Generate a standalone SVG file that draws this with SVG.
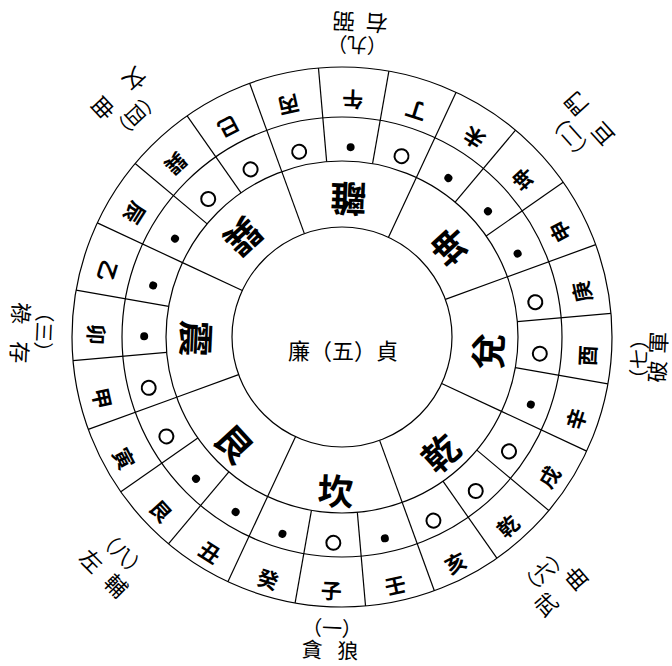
<svg xmlns="http://www.w3.org/2000/svg" width="672" height="666" viewBox="0 0 672 666">
<style>
.ln{stroke:#000;stroke-width:1.2;fill:none}
.t{font-family:"Noto Sans CJK TC","Noto Sans CJK SC",sans-serif;text-anchor:middle;dominant-baseline:central;fill:#000}
.m{font-size:21px;font-weight:700}
.g{font-size:36px;font-weight:700}
.s{font-size:22px}
.n{font-size:20px}
.c{font-size:22px}
.o{fill:none;stroke:#000;stroke-width:2}
.d{fill:#000}
</style>
<rect width="672" height="666" fill="#fff"/>
<g id="connectors">
<circle class="ln" cx="342" cy="337" r="270"/>
<circle class="ln" cx="342" cy="337" r="220"/>
<circle class="ln" cx="342" cy="337" r="176"/>
<circle class="ln" cx="342" cy="337" r="110"/>
<g id="lines24">
<line class="ln" x1="342" y1="161" x2="342" y2="67" transform="rotate(10 342 337)"/>
<line class="ln" x1="342" y1="161" x2="342" y2="67" transform="rotate(25 342 337)"/>
<line class="ln" x1="342" y1="161" x2="342" y2="67" transform="rotate(40 342 337)"/>
<line class="ln" x1="342" y1="161" x2="342" y2="67" transform="rotate(55 342 337)"/>
<line class="ln" x1="342" y1="161" x2="342" y2="67" transform="rotate(70 342 337)"/>
<line class="ln" x1="342" y1="161" x2="342" y2="67" transform="rotate(85 342 337)"/>
<line class="ln" x1="342" y1="161" x2="342" y2="67" transform="rotate(100 342 337)"/>
<line class="ln" x1="342" y1="161" x2="342" y2="67" transform="rotate(115 342 337)"/>
<line class="ln" x1="342" y1="161" x2="342" y2="67" transform="rotate(130 342 337)"/>
<line class="ln" x1="342" y1="161" x2="342" y2="67" transform="rotate(145 342 337)"/>
<line class="ln" x1="342" y1="161" x2="342" y2="67" transform="rotate(160 342 337)"/>
<line class="ln" x1="342" y1="161" x2="342" y2="67" transform="rotate(175 342 337)"/>
<line class="ln" x1="342" y1="161" x2="342" y2="67" transform="rotate(190 342 337)"/>
<line class="ln" x1="342" y1="161" x2="342" y2="67" transform="rotate(205 342 337)"/>
<line class="ln" x1="342" y1="161" x2="342" y2="67" transform="rotate(220 342 337)"/>
<line class="ln" x1="342" y1="161" x2="342" y2="67" transform="rotate(235 342 337)"/>
<line class="ln" x1="342" y1="161" x2="342" y2="67" transform="rotate(250 342 337)"/>
<line class="ln" x1="342" y1="161" x2="342" y2="67" transform="rotate(265 342 337)"/>
<line class="ln" x1="342" y1="161" x2="342" y2="67" transform="rotate(280 342 337)"/>
<line class="ln" x1="342" y1="161" x2="342" y2="67" transform="rotate(295 342 337)"/>
<line class="ln" x1="342" y1="161" x2="342" y2="67" transform="rotate(310 342 337)"/>
<line class="ln" x1="342" y1="161" x2="342" y2="67" transform="rotate(325 342 337)"/>
<line class="ln" x1="342" y1="161" x2="342" y2="67" transform="rotate(340 342 337)"/>
<line class="ln" x1="342" y1="161" x2="342" y2="67" transform="rotate(355 342 337)"/>
</g>
<g id="lines8">
<line class="ln" x1="342" y1="227" x2="342" y2="161" transform="rotate(25 342 337)"/>
<line class="ln" x1="342" y1="227" x2="342" y2="161" transform="rotate(70 342 337)"/>
<line class="ln" x1="342" y1="227" x2="342" y2="161" transform="rotate(115 342 337)"/>
<line class="ln" x1="342" y1="227" x2="342" y2="161" transform="rotate(160 342 337)"/>
<line class="ln" x1="342" y1="227" x2="342" y2="161" transform="rotate(205 342 337)"/>
<line class="ln" x1="342" y1="227" x2="342" y2="161" transform="rotate(250 342 337)"/>
<line class="ln" x1="342" y1="227" x2="342" y2="161" transform="rotate(295 342 337)"/>
<line class="ln" x1="342" y1="227" x2="342" y2="161" transform="rotate(340 342 337)"/>
</g>
</g>
<g id="mountains">
<text class="t m" x="342" y="590" transform="rotate(182.5 342 345)">午</text>
<text class="t m" x="342" y="590" transform="rotate(197.5 342 345)">丁</text>
<text class="t m" x="342" y="590" transform="rotate(212.5 342 345)">未</text>
<text class="t m" x="342" y="590" transform="rotate(227.5 342 345)">坤</text>
<text class="t m" x="342" y="590" transform="rotate(242.5 342 345)">申</text>
<text class="t m" x="342" y="590" transform="rotate(257.5 342 345)">庚</text>
<text class="t m" x="342" y="590" transform="rotate(272.5 342 345)">酉</text>
<text class="t m" x="342" y="590" transform="rotate(287.5 342 345)">辛</text>
<text class="t m" x="342" y="590" transform="rotate(302.5 342 345)">戌</text>
<text class="t m" x="342" y="590" transform="rotate(317.5 342 345)">乾</text>
<text class="t m" x="342" y="590" transform="rotate(332.5 342 345)">亥</text>
<text class="t m" x="342" y="590" transform="rotate(347.5 342 345)">壬</text>
<text class="t m" x="342" y="590" transform="rotate(2.5 342 345)">子</text>
<text class="t m" x="342" y="590" transform="rotate(17.5 342 345)">癸</text>
<text class="t m" x="342" y="590" transform="rotate(32.5 342 345)">丑</text>
<text class="t m" x="342" y="590" transform="rotate(47.5 342 345)">艮</text>
<text class="t m" x="342" y="590" transform="rotate(62.5 342 345)">寅</text>
<text class="t m" x="342" y="590" transform="rotate(77.5 342 345)">甲</text>
<text class="t m" x="342" y="590" transform="rotate(92.5 342 345)">卯</text>
<text class="t m" x="342" y="590" transform="rotate(107.5 342 345)">乙</text>
<text class="t m" x="342" y="590" transform="rotate(122.5 342 345)">辰</text>
<text class="t m" x="342" y="590" transform="rotate(137.5 342 345)">巽</text>
<text class="t m" x="342" y="590" transform="rotate(152.5 342 345)">巳</text>
<text class="t m" x="342" y="590" transform="rotate(167.5 342 345)">丙</text>
</g>
<g id="marks">
<circle class="d" cx="342" cy="543" r="4" transform="rotate(182.5 342 345)"/>
<circle class="o" cx="342" cy="543" r="7" transform="rotate(197.5 342 345)"/>
<circle class="d" cx="342" cy="543" r="4" transform="rotate(212.5 342 345)"/>
<circle class="d" cx="342" cy="543" r="4" transform="rotate(227.5 342 345)"/>
<circle class="d" cx="342" cy="543" r="4" transform="rotate(242.5 342 345)"/>
<circle class="o" cx="342" cy="543" r="7" transform="rotate(257.5 342 345)"/>
<circle class="o" cx="342" cy="543" r="7" transform="rotate(272.5 342 345)"/>
<circle class="d" cx="342" cy="543" r="4" transform="rotate(287.5 342 345)"/>
<circle class="o" cx="342" cy="543" r="7" transform="rotate(302.5 342 345)"/>
<circle class="o" cx="342" cy="543" r="7" transform="rotate(317.5 342 345)"/>
<circle class="o" cx="342" cy="543" r="7" transform="rotate(332.5 342 345)"/>
<circle class="d" cx="342" cy="543" r="4" transform="rotate(347.5 342 345)"/>
<circle class="o" cx="342" cy="543" r="7" transform="rotate(2.5 342 345)"/>
<circle class="d" cx="342" cy="543" r="4" transform="rotate(17.5 342 345)"/>
<circle class="d" cx="342" cy="543" r="4" transform="rotate(32.5 342 345)"/>
<circle class="d" cx="342" cy="543" r="4" transform="rotate(47.5 342 345)"/>
<circle class="o" cx="342" cy="543" r="7" transform="rotate(62.5 342 345)"/>
<circle class="o" cx="342" cy="543" r="7" transform="rotate(77.5 342 345)"/>
<circle class="d" cx="342" cy="543" r="4" transform="rotate(92.5 342 345)"/>
<circle class="d" cx="342" cy="543" r="4" transform="rotate(107.5 342 345)"/>
<circle class="d" cx="342" cy="543" r="4" transform="rotate(122.5 342 345)"/>
<circle class="o" cx="342" cy="543" r="7" transform="rotate(137.5 342 345)"/>
<circle class="o" cx="342" cy="543" r="7" transform="rotate(152.5 342 345)"/>
<circle class="o" cx="342" cy="543" r="7" transform="rotate(167.5 342 345)"/>
</g>
<g id="trigrams">
<text class="t g" x="342" y="489" transform="rotate(182.5 342 345)">離</text>
<text class="t g" x="342" y="489" transform="rotate(227.5 342 345)">坤</text>
<text class="t g" x="342" y="489" transform="rotate(272.5 342 345)">兌</text>
<text class="t g" x="342" y="489" transform="rotate(317.5 342 345)">乾</text>
<text class="t g" x="342" y="489" transform="rotate(2.5 342 345)">坎</text>
<text class="t g" x="342" y="489" transform="rotate(47.5 342 345)">艮</text>
<text class="t g" x="342" y="489" transform="rotate(92.5 342 345)">震</text>
<text class="t g" x="342" y="489" transform="rotate(137.5 342 345)">巽</text>
</g>
<g id="center">
<text class="t c" x="343" y="349">廉（五）貞</text>
</g>
<g id="star1">
<text class="t n" x="332" y="627" transform="rotate(2.5 332 627)">（一）</text>
<text class="t s" x="330" y="649" transform="rotate(2.5 330 649)" style="font-size:21px">貪<tspan dx="15">狼</tspan></text>
</g>
<g id="star9">
<text class="t n" x="357" y="46" transform="rotate(182.5 357 46)">（九）</text>
<text class="t s" x="360" y="24" transform="rotate(182.5 360 24)">右<tspan dx="11">弼</tspan></text>
</g>
<g id="star4">
<text class="t n" x="136" y="116" transform="rotate(137 136 116)">（四）</text>
<text class="t s" x="120" y="95" transform="rotate(137 120 95)">文<tspan dx="21">曲</tspan></text>
</g>
<g id="star2">
<text class="t n" x="570" y="137" transform="rotate(228 570 137)">（二）</text>
<text class="t s" x="588" y="120" transform="rotate(228 588 120)">巨<tspan dx="18">門</tspan></text>
</g>
<g id="star7">
<text class="t n" x="638" y="359" transform="rotate(272.5 638 359)">（七）</text>
<text class="t s" x="656" y="357" transform="rotate(272.5 656 357)">破<tspan dx="7">軍</tspan></text>
</g>
<g id="star6">
<text class="t n" x="543" y="571" transform="rotate(319 543 571)">（六）</text>
<text class="t s" x="560" y="590" transform="rotate(319 560 590)">武<tspan dx="18">曲</tspan></text>
</g>
<g id="star8">
<text class="t n" x="123" y="553" transform="rotate(45 123 553)">（八）</text>
<text class="t s" x="105" y="572" transform="rotate(45 105 572)">左<tspan dx="13">輔</tspan></text>
</g>
<g id="star3">
<text class="t n" x="45" y="332" transform="rotate(92.5 45 332)">（三）</text>
<text class="t s" x="22" y="333" transform="rotate(92.5 22 333)">祿<tspan dx="17">存</tspan></text>
</g>
</svg>
